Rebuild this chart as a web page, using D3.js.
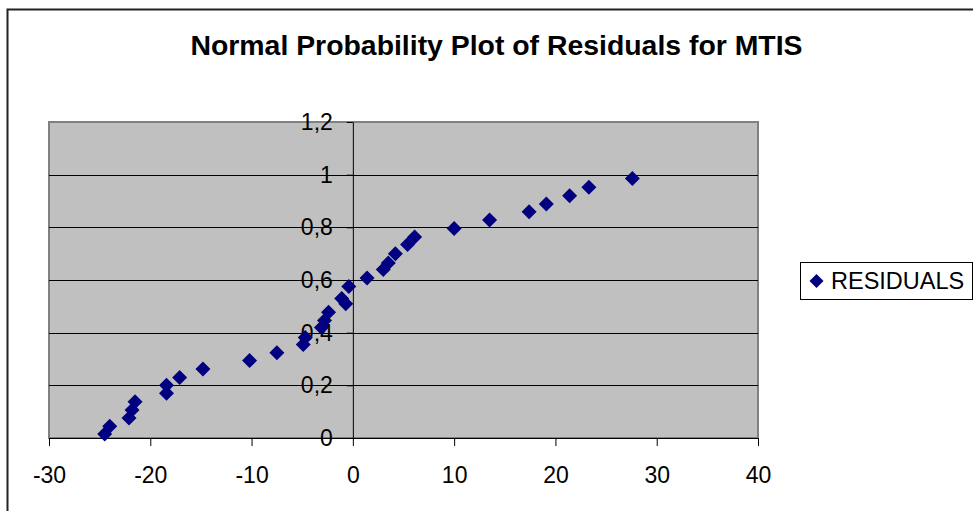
<!DOCTYPE html>
<html>
<head>
<meta charset="utf-8">
<script src="https://cdn.jsdelivr.net/npm/d3@7"></script>
<style>
  body { margin: 0; background: #fff; }
  svg text { font-family: "Liberation Sans", Arial, sans-serif; fill: #000; }
</style>
</head>
<body>
<div id="chart"></div>
<script>
// residual values (x) and cumulative probability (y)
const residuals = [-24.5, -24.0, -22.1, -21.8, -21.5, -18.4, -18.4, -17.1, -14.8, -10.2, -7.5,
    -4.9, -4.7, -3.1, -2.8, -2.4, -1.1, -0.7, -0.4, 1.4, 3.0, 3.5, 4.2, 5.4, 6.1,
    10.0, 13.5, 17.4, 19.1, 21.4, 23.3, 27.6];
const probability = [0.015, 0.045, 0.076, 0.106, 0.138, 0.170, 0.200, 0.230, 0.262, 0.294, 0.324,
    0.355, 0.382, 0.420, 0.446, 0.478, 0.530, 0.510, 0.575, 0.608, 0.640, 0.665, 0.700, 0.735, 0.763,
    0.796, 0.828, 0.859, 0.889, 0.920, 0.952, 0.985];
const xTicks = [-30, -20, -10, 0, 10, 20, 30, 40];
const yTicks = [0, 0.2, 0.4, 0.6, 0.8, 1, 1.2];
const seriesName = "RESIDUALS";
const chartTitle = "Normal Probability Plot of Residuals for MTIS";

const svgWidth = 973;
const svgHeight = 511;
const plot = { left: 49, top: 122, right: 758, bottom: 438 };

const svg = d3.select("#chart").append("svg")
    .attr("width", svgWidth)
    .attr("height", svgHeight);

// outer chart frame (runs off the right and bottom edges)
svg.append("rect")
    .attr("x", 7.5).attr("y", 9.5)
    .attr("width", 1000).attr("height", 600)
    .attr("fill", "#fff")
    .attr("stroke", "#222")
    .attr("stroke-width", 2);

const xScale = d3.scaleLinear().domain([-30, 40]).range([plot.left, plot.right]);
const yScale = d3.scaleLinear().domain([0, 1.2]).range([plot.bottom, plot.top]);

// plot area
svg.append("rect")
    .attr("x", plot.left).attr("y", plot.top)
    .attr("width", plot.right - plot.left)
    .attr("height", plot.bottom - plot.top)
    .attr("fill", "#c0c0c0")
    .attr("stroke", "#808080")
    .attr("stroke-width", 2);

// gridlines
svg.selectAll(".grid")
    .data(yTicks.filter(d => d > 0 && d < 1.2))
    .enter().append("line")
    .attr("class", "grid")
    .attr("x1", plot.left).attr("x2", plot.right)
    .attr("y1", d => Math.round(yScale(d)) + 0.5)
    .attr("y2", d => Math.round(yScale(d)) + 0.5)
    .attr("stroke", "#000")
    .attr("stroke-width", 1);

// axes
const xAxis = d3.axisBottom(xScale)
    .tickValues(xTicks)
    .tickSize(8)
    .tickSizeOuter(0)
    .tickPadding(21)
    .tickFormat(d => d);

const yAxis = d3.axisLeft(yScale)
    .tickValues(yTicks)
    .tickSize(6)
    .tickSizeOuter(0)
    .tickPadding(14)
    .tickFormat(d => String(d).replace(".", ","));

const gx = svg.append("g")
    .attr("transform", `translate(0, ${plot.bottom})`)
    .call(xAxis);

const gy = svg.append("g")
    .attr("transform", `translate(${xScale(0)}, 0)`)
    .call(yAxis);

[gx, gy].forEach(g => {
    g.selectAll("path, line").attr("stroke", "#000");
    g.selectAll("text")
        .attr("font-family", "'Liberation Sans', Arial, sans-serif")
        .attr("font-size", 23)
        .attr("fill", "#000");
});

// points
const diamond = r => `M0,${-r}L${r},0L0,${r}L${-r},0Z`;

svg.selectAll(".pt")
    .data(residuals.map((x, i) => [x, probability[i]]))
    .enter().append("path")
    .attr("class", "pt")
    .attr("d", diamond(7.5))
    .attr("transform", d => `translate(${xScale(d[0])}, ${yScale(d[1])})`)
    .attr("fill", "#000080");

// title
svg.append("text")
    .attr("x", 496.5)
    .attr("y", 55)
    .attr("text-anchor", "middle")
    .attr("font-size", 28.4)
    .attr("font-weight", "bold")
    .text(chartTitle);

// legend
const legend = svg.append("g");
legend.append("rect")
    .attr("x", 800.5).attr("y", 262.5)
    .attr("width", 172).attr("height", 37)
    .attr("fill", "#fff")
    .attr("stroke", "#000")
    .attr("stroke-width", 1);
legend.append("path")
    .attr("d", diamond(7))
    .attr("transform", "translate(816.5, 281)")
    .attr("fill", "#000080");
legend.append("text")
    .attr("x", 831)
    .attr("y", 289)
    .attr("font-size", 23.5)
    .text(seriesName);
</script>
</body>
</html>
